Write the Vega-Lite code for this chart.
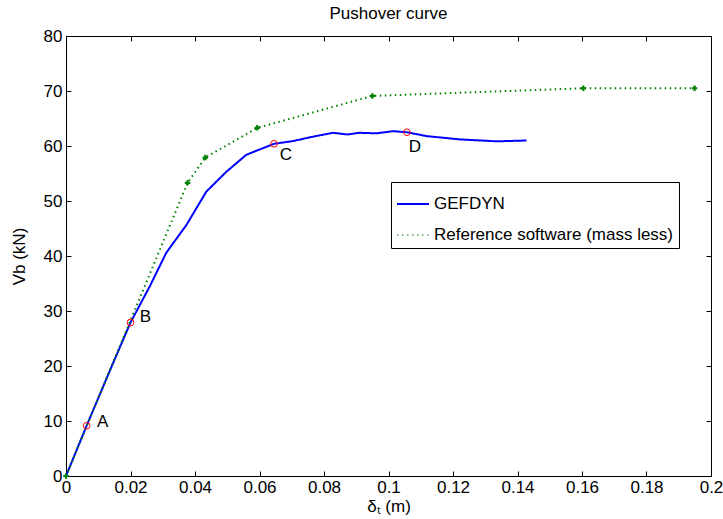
{
  "$schema": "https://vega.github.io/schema/vega-lite/v6.json",
  "width": 645,
  "height": 440,
  "autosize": "none",
  "padding": {"left": 66, "top": 36, "right": 12, "bottom": 43},
  "title": {"text": "Pushover curve", "fontSize": 17, "fontWeight": "normal", "font": "Liberation Sans", "color": "black", "offset": 4},
  "config": {
    "view": {"stroke": "black", "strokeWidth": 1},
    "font": "Liberation Sans",
    "axis": {"grid": false, "domain": false, "tickColor": "black", "tickSize": -5, "labelPadding": 10, "labelFlush": false, "labelOverlap": false, "labelFontSize": 17, "labelColor": "black", "labelFont": "Liberation Sans", "titleFont": "Liberation Sans", "titleFontSize": 17, "titleFontWeight": "normal", "titleColor": "black"},
    "legend": {"labelFont": "Liberation Sans", "labelFontSize": 17, "labelColor": "black", "labelLimit": 400}
  },
  "datasets": {
    "curves": [
      {"series": "GEFDYN", "x": 0, "y": 0},
      {"series": "GEFDYN", "x": 0.0064, "y": 9.15},
      {"series": "GEFDYN", "x": 0.0132, "y": 18.6},
      {"series": "GEFDYN", "x": 0.02, "y": 27.9},
      {"series": "GEFDYN", "x": 0.0259, "y": 34.4},
      {"series": "GEFDYN", "x": 0.0311, "y": 40.6},
      {"series": "GEFDYN", "x": 0.0373, "y": 45.6},
      {"series": "GEFDYN", "x": 0.0435, "y": 51.7},
      {"series": "GEFDYN", "x": 0.0497, "y": 55.3},
      {"series": "GEFDYN", "x": 0.0559, "y": 58.4},
      {"series": "GEFDYN", "x": 0.0645, "y": 60.4},
      {"series": "GEFDYN", "x": 0.0704, "y": 60.9},
      {"series": "GEFDYN", "x": 0.0766, "y": 61.7},
      {"series": "GEFDYN", "x": 0.0828, "y": 62.4},
      {"series": "GEFDYN", "x": 0.0872, "y": 62.1},
      {"series": "GEFDYN", "x": 0.0911, "y": 62.4},
      {"series": "GEFDYN", "x": 0.0963, "y": 62.3},
      {"series": "GEFDYN", "x": 0.1014, "y": 62.7},
      {"series": "GEFDYN", "x": 0.1057, "y": 62.5},
      {"series": "GEFDYN", "x": 0.1118, "y": 61.8},
      {"series": "GEFDYN", "x": 0.1221, "y": 61.2},
      {"series": "GEFDYN", "x": 0.1335, "y": 60.85},
      {"series": "GEFDYN", "x": 0.1428, "y": 61.0},
      {"series": "Reference software (mass less)", "x": 0, "y": 0},
      {"series": "Reference software (mass less)", "x": 0.0377, "y": 53.3},
      {"series": "Reference software (mass less)", "x": 0.0432, "y": 57.9},
      {"series": "Reference software (mass less)", "x": 0.0593, "y": 63.3},
      {"series": "Reference software (mass less)", "x": 0.095, "y": 69.1},
      {"series": "Reference software (mass less)", "x": 0.1604, "y": 70.5},
      {"series": "Reference software (mass less)", "x": 0.1949, "y": 70.5}
    ],
    "marks": [
      {"label": "A", "x": 0.0064, "y": 9.15},
      {"label": "B", "x": 0.02, "y": 27.9},
      {"label": "C", "x": 0.0645, "y": 60.4},
      {"label": "D", "x": 0.1057, "y": 62.5}
    ]
  },
  "layer": [
    {
      "data": {"name": "curves"},
      "mark": {"type": "line", "strokeWidth": 2},
      "encoding": {
        "x": {"field": "x", "type": "quantitative", "scale": {"domain": [0, 0.2], "nice": false, "zero": false},
              "axis": {"orient": "bottom", "values": [0, 0.02, 0.04, 0.06, 0.08, 0.1, 0.12, 0.14, 0.16, 0.18, 0.2], "format": "~g", "title": "δₜ (m)", "titlePadding": 3, "labelPadding": 8}},
        "y": {"field": "y", "type": "quantitative", "scale": {"domain": [0, 80], "nice": false, "zero": false},
              "axis": {"orient": "left", "values": [0, 10, 20, 30, 40, 50, 60, 70, 80], "title": "Vb (kN)", "titlePadding": 15, "labelPadding": 9}},
        "color": {"field": "series", "type": "nominal",
                  "scale": {"domain": ["GEFDYN", "Reference software (mass less)"], "range": ["#0000ff", "#008000"]},
                  "legend": {"title": null, "orient": "none", "legendX": 325, "legendY": 146, "strokeColor": "black", "fillColor": "white", "padding": 5, "symbolType": "stroke", "symbolSize": 1024, "rowPadding": 6, "labelOffset": 4, "cornerRadius": 0}},
        "strokeDash": {"field": "series", "type": "nominal",
                  "scale": {"domain": ["GEFDYN", "Reference software (mass less)"], "range": [[1, 0], [1.5, 3.5]]}},
        "strokeWidth": {"field": "series", "type": "nominal",
                  "scale": {"domain": ["GEFDYN", "Reference software (mass less)"], "range": [2, 1.2]}, "legend": null}
      }
    },
    {
      "data": {"name": "curves"},
      "transform": [{"filter": "datum.series === 'Reference software (mass less)'"}],
      "mark": {"type": "point", "shape": "cross", "filled": true, "size": 30, "color": "#008000", "opacity": 1},
      "encoding": {
        "x": {"field": "x", "type": "quantitative", "axis": {"orient": "top", "labels": false, "title": null, "values": [0, 0.02, 0.04, 0.06, 0.08, 0.1, 0.12, 0.14, 0.16, 0.18, 0.2]}},
        "y": {"field": "y", "type": "quantitative", "axis": {"orient": "right", "labels": false, "title": null, "values": [0, 10, 20, 30, 40, 50, 60, 70, 80]}}
      }
    },
    {
      "data": {"name": "marks"},
      "mark": {"type": "point", "shape": "circle", "filled": false, "size": 45, "color": "#ff0000", "strokeWidth": 1, "opacity": 1},
      "encoding": {
        "x": {"field": "x", "type": "quantitative", "axis": null},
        "y": {"field": "y", "type": "quantitative", "axis": null}
      }
    },
    {
      "data": {"name": "marks"},
      "transform": [{"filter": "datum.label === 'A'"}],
      "mark": {"type": "text", "fontSize": 17, "color": "black", "dx": 16, "dy": -4, "align": "center", "baseline": "middle"},
      "encoding": {"x": {"field": "x", "type": "quantitative", "axis": null}, "y": {"field": "y", "type": "quantitative", "axis": null}, "text": {"field": "label"}}
    },
    {
      "data": {"name": "marks"},
      "transform": [{"filter": "datum.label === 'B'"}],
      "mark": {"type": "text", "fontSize": 17, "color": "black", "dx": 15, "dy": -6, "align": "center", "baseline": "middle"},
      "encoding": {"x": {"field": "x", "type": "quantitative", "axis": null}, "y": {"field": "y", "type": "quantitative", "axis": null}, "text": {"field": "label"}}
    },
    {
      "data": {"name": "marks"},
      "transform": [{"filter": "datum.label === 'C'"}],
      "mark": {"type": "text", "fontSize": 17, "color": "black", "dx": 12, "dy": 11, "align": "center", "baseline": "middle"},
      "encoding": {"x": {"field": "x", "type": "quantitative", "axis": null}, "y": {"field": "y", "type": "quantitative", "axis": null}, "text": {"field": "label"}}
    },
    {
      "data": {"name": "marks"},
      "transform": [{"filter": "datum.label === 'D'"}],
      "mark": {"type": "text", "fontSize": 17, "color": "black", "dx": 8, "dy": 15, "align": "center", "baseline": "middle"},
      "encoding": {"x": {"field": "x", "type": "quantitative", "axis": null}, "y": {"field": "y", "type": "quantitative", "axis": null}, "text": {"field": "label"}}
    }
  ],
  "resolve": {"axis": {"x": "independent", "y": "independent"}}
}
